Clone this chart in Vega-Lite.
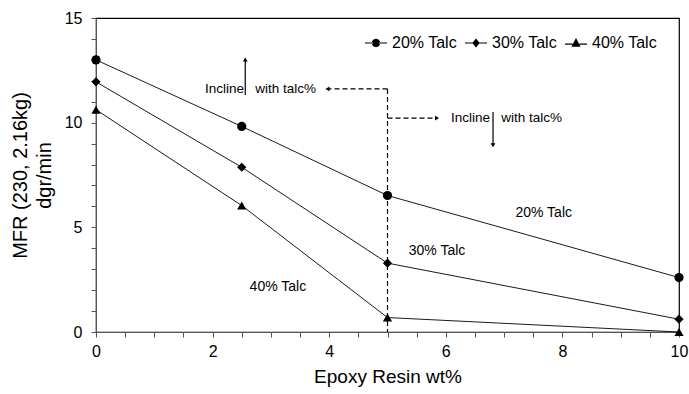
{
  "$schema": "https://vega.github.io/schema/vega-lite/v6.json",
  "width": 583,
  "height": 314,
  "autosize": "none",
  "padding": {"left": 96, "top": 18, "right": 10, "bottom": 62},
  "background": "white",
  "config": {
    "font": "Liberation Sans",
    "view": {"stroke": "black", "strokeWidth": 1.2},
    "axis": {
      "labelFont": "Liberation Sans",
      "titleFont": "Liberation Sans",
      "labelColor": "black",
      "titleColor": "black",
      "titleFontWeight": "normal",
      "domainColor": "#555",
      "tickColor": "#555",
      "labelOverlap": false,
      "labelFlush": false,
      "grid": false
    }
  },
  "datasets": {
    "mfr": [
      {"resin": 0, "mfr": 13.0, "talc": "20% Talc"},
      {"resin": 2.5, "mfr": 9.82, "talc": "20% Talc"},
      {"resin": 5, "mfr": 6.52, "talc": "20% Talc"},
      {"resin": 10, "mfr": 2.6, "talc": "20% Talc"},
      {"resin": 0, "mfr": 11.95, "talc": "30% Talc"},
      {"resin": 2.5, "mfr": 7.87, "talc": "30% Talc"},
      {"resin": 5, "mfr": 3.29, "talc": "30% Talc"},
      {"resin": 10, "mfr": 0.61, "talc": "30% Talc"},
      {"resin": 0, "mfr": 10.62, "talc": "40% Talc"},
      {"resin": 2.5, "mfr": 6.04, "talc": "40% Talc"},
      {"resin": 5, "mfr": 0.69, "talc": "40% Talc"},
      {"resin": 10, "mfr": 0.0, "talc": "40% Talc"}
    ],
    "segments": [
      {"resin": 2.56, "mfr": 11.32, "resin2": 2.56, "mfr2": 13.0, "style": "solid"},
      {"resin": 6.81, "mfr": 10.51, "resin2": 6.81, "mfr2": 8.95, "style": "solid"},
      {"resin": 5, "mfr": 11.61, "resin2": 4.0, "mfr2": 11.61, "style": "dashed"},
      {"resin": 5, "mfr": 11.61, "resin2": 5, "mfr2": 0, "style": "dashed"},
      {"resin": 5, "mfr": 10.22, "resin2": 5.82, "mfr2": 10.22, "style": "dashed"}
    ],
    "heads": [
      {"resin": 2.56, "mfr": 13.02, "dir": "up"},
      {"resin": 6.81, "mfr": 8.92, "dir": "down"},
      {"resin": 3.97, "mfr": 11.61, "dir": "left"},
      {"resin": 5.85, "mfr": 10.22, "dir": "right"}
    ],
    "notes": [
      {"resin": 1.87, "mfr": 11.61, "text": "Incline\u00a0\u00a0 with talc%"},
      {"resin": 6.09, "mfr": 10.22, "text": "Incline\u00a0\u00a0 with talc%"}
    ],
    "labels": [
      {"resin": 7.68, "mfr": 5.69, "text": "20% Talc"},
      {"resin": 5.85, "mfr": 3.88, "text": "30% Talc"},
      {"resin": 3.12, "mfr": 2.15, "text": "40% Talc"}
    ]
  },
  "encoding": {
    "x": {
      "field": "resin", "type": "quantitative",
      "title": "Epoxy Resin wt%",
      "scale": {"domain": [0, 10], "nice": false, "zero": false},
      "axis": {
        "values": [0, 0.5, 1, 1.5, 2, 2.5, 3, 3.5, 4, 4.5, 5, 5.5, 6, 6.5, 7, 7.5, 8, 8.5, 9, 9.5, 10],
        "format": "~g",
        "labelExpr": "datum.value % 2 === 0 ? datum.label : ''",
        "labelFontSize": 16,
        "titleFontSize": 19,
        "tickSize": 5,
        "labelPadding": 6,
        "titlePadding": 8,
        "labelFlush": false,
        "labelOverlap": false
      }
    },
    "y": {
      "field": "mfr", "type": "quantitative",
      "title": ["MFR (230, 2.16kg)", "dgr/min"],
      "scale": {"domain": [0, 15], "nice": false, "zero": false},
      "axis": {
        "values": [0, 1, 2, 3, 4, 5, 6, 7, 8, 9, 10, 11, 12, 13, 14, 15],
        "format": "~g",
        "labelExpr": "datum.value % 5 === 0 ? datum.label : ''",
        "labelFontSize": 16,
        "titleFontSize": 20,
        "titleLineHeight": 24,
        "tickSize": 5,
        "labelPadding": 9,
        "titlePadding": 10,
        "labelFlush": false,
        "labelOverlap": false
      }
    }
  },
  "layer": [
    {
      "data": {"name": "mfr"},
      "mark": {"type": "line", "color": "black", "strokeWidth": 0.9},
      "encoding": {"detail": {"field": "talc"}}
    },
    {
      "data": {"name": "mfr"},
      "mark": {"type": "point", "filled": true, "color": "black", "opacity": 1, "size": 85},
      "encoding": {
        "shape": {
          "field": "talc", "type": "nominal",
          "scale": {"domain": ["20% Talc", "30% Talc", "40% Talc"], "range": ["circle", "diamond", "triangle-up"]},
          "legend": null
        }
      }
    },
    {
      "data": {"name": "mfr"},
      "mark": {"type": "point", "filled": true, "color": "black", "opacity": 0},
      "encoding": {
        "shape": {
          "field": "talc", "type": "nominal",
          "scale": {
            "domain": ["20% Talc", "30% Talc", "40% Talc"],
            "range": [
              "M-1,-0.05L-0.3,-0.05L-0.3,0.05L-1,0.05ZM0.3,-0.05L1,-0.05L1,0.05L0.3,0.05ZM-0.38,0A0.38,0.38 0 1,0 0.38,0A0.38,0.38 0 1,0 -0.38,0Z",
              "M-1,-0.05L-0.28,-0.05L-0.28,0.05L-1,0.05ZM0.28,-0.05L1,-0.05L1,0.05L0.28,0.05ZM0,-0.4L0.34,0L0,0.4L-0.34,0Z",
              "M-1,0.05L-0.3,0.05L-0.3,0.15L-1,0.15ZM0.3,0.05L1,0.05L1,0.15L0.3,0.15ZM0,-0.45L0.42,0.35L-0.42,0.35Z"
            ]
          },
          "legend": {
            "title": null,
            "orient": "none",
            "direction": "horizontal",
            "legendX": 269,
            "legendY": 14,
            "labelFont": "Liberation Sans",
            "labelFontSize": 16,
            "labelColor": "black",
            "labelOffset": 5,
            "columnPadding": 8,
            "symbolSize": 484,
            "symbolOpacity": 1,
            "symbolFillColor": "black",
            "symbolStrokeWidth": 0,
            "encode": {"symbols": {"update": {
              "opacity": {"value": 1},
              "fill": {"value": "black"},
              "fillOpacity": {"value": 1}
            }}}
          }
        }
      }
    },
    {
      "data": {"name": "segments"},
      "mark": {"type": "rule", "color": "black", "strokeWidth": 1.2},
      "encoding": {
        "x2": {"field": "resin2"},
        "y2": {"field": "mfr2"},
        "strokeDash": {
          "field": "style", "type": "nominal",
          "scale": {"domain": ["solid", "dashed"], "range": [[1, 0], [5, 3]]},
          "legend": null
        }
      }
    },
    {
      "data": {"name": "heads"},
      "mark": {"type": "point", "filled": true, "color": "black", "opacity": 1, "size": 22},
      "encoding": {
        "shape": {
          "field": "dir", "type": "nominal",
          "scale": {"domain": ["up", "down", "left", "right"], "range": ["triangle-up", "triangle-down", "triangle-left", "triangle-right"]},
          "legend": null
        }
      }
    },
    {
      "data": {"name": "notes"},
      "mark": {"type": "text", "align": "left", "baseline": "middle", "fontSize": 13.5, "color": "black", "font": "Liberation Sans"},
      "encoding": {"text": {"field": "text"}}
    },
    {
      "data": {"name": "labels"},
      "mark": {"type": "text", "align": "center", "baseline": "middle", "fontSize": 14, "color": "black", "font": "Liberation Sans"},
      "encoding": {"text": {"field": "text"}}
    }
  ],
  "resolve": {"scale": {"shape": "independent", "strokeDash": "independent"}}
}
